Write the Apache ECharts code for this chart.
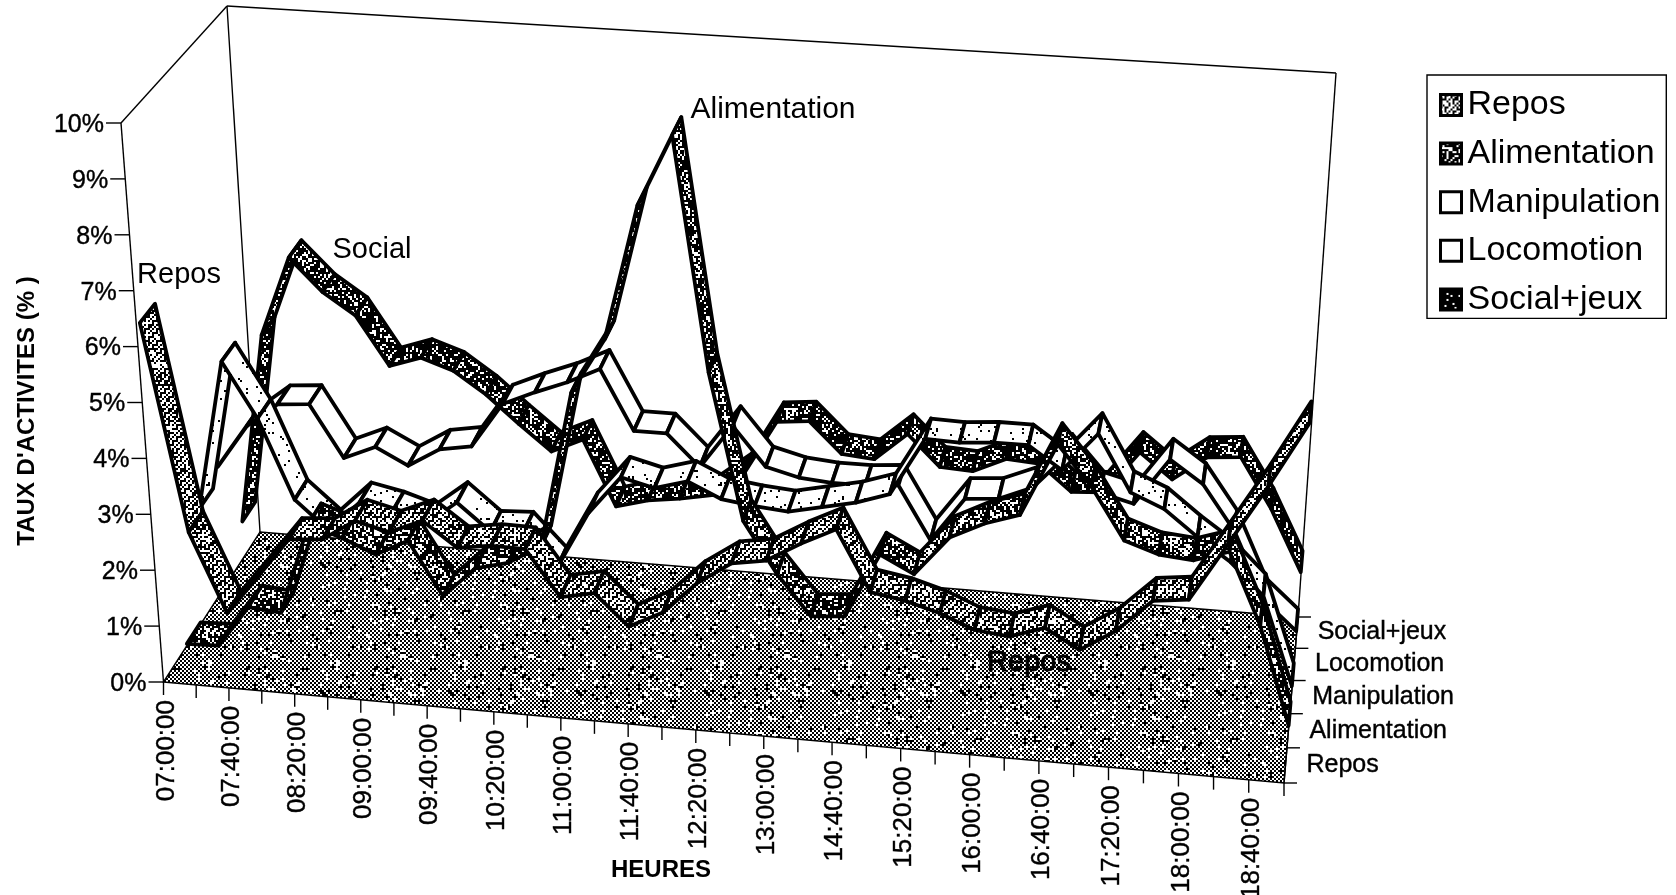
<!DOCTYPE html>
<html>
<head>
<meta charset="utf-8">
<style>
  html, body { margin: 0; padding: 0; background: #fff; }
  #chart { width: 1676px; height: 895px; }
</style>
<script src="https://cdn.jsdelivr.net/npm/echarts@6/dist/echarts.min.js"></script>
</head>
<body>
<div id="chart"></div>
<script>
const heures = ['07:00:00','07:20:00','07:40:00','08:00:00','08:20:00','08:40:00','09:00:00','09:20:00','09:40:00',
  '10:00:00','10:20:00','10:40:00','11:00:00','11:20:00','11:40:00','12:00:00','12:20:00','12:40:00','13:00:00',
  '14:20:00','14:40:00','15:00:00','15:20:00','15:40:00','16:00:00','16:20:00','16:40:00','17:00:00','17:20:00',
  '17:40:00','18:00:00','18:20:00','18:40:00','19:00:00']
const activites = ['Repos', 'Alimentation', 'Manipulation', 'Locomotion', 'Social+jeux']
const yTicks = [0, 1, 2, 3, 4, 5, 6, 7, 8, 9, 10]

const repos = [6.35,2.65,1.25,1.95,2.67,2.72,3.1,2.95,3.2,2.77,2.86,2.85,2.05,2.17,1.63,1.93,2.5,2.9,3.0,3.35,3.65,2.6,2.5,2.33,2.09,2.03,2.23,1.9,2.28,2.86,2.93,3.95,5.0,6.15]
const alimentation = [0.03,0.05,0.8,0.75,2.4,2.2,1.95,2.25,1.3,1.85,2.0,2.35,5.15,6.15,8.6,9.9,5.7,3.1,2.2,1.5,1.55,2.7,2.4,3.1,3.4,3.6,4.9,4.2,3.3,3.1,3.05,3.25,2.0,0.3]
const manipulation = [1.95,4.7,3.7,2.26,1.75,2.3,2.18,2.0,2.45,1.97,2.0,1.4,2.45,3.15,3.0,3.17,2.9,2.82,2.77,2.9,3.03,3.23,4.27,4.25,4.3,4.3,3.9,4.6,3.6,3.35,2.9,2.5,1.95,0.4]
const locomotion = [2.2,3.0,3.45,3.5,2.55,2.8,2.5,2.85,2.95,3.78,4.04,4.27,4.56,3.47,3.47,2.9,3.7,3.0,2.85,2.8,2.8,2.85,1.9,2.7,2.75,3.0,3.65,3.0,2.85,3.7,3.3,2.5,1.3,0.8]
const social = [0.65,4.2,5.7,5.1,4.7,3.8,4.0,3.8,3.4,2.9,2.43,2.7,1.5,1.66,1.74,1.85,2.3,3.3,3.36,2.8,2.75,3.26,2.7,2.67,2.94,2.9,2.43,2.47,3.25,2.8,3.25,3.3,2.4,1.3]

const FONT = '"Liberation Sans", Arial, sans-serif'

// corners of the 3D box on the page
const box = {
  f0: [163.5, 682], f1: [1284, 783], b0: [260, 532], b1: [1298, 617],
  tf0: [121, 123], tf1: [1325, 205], tb0: [227, 6], tb1: [1336, 73]
}
const lerp = (a, b, t) => [a[0] + (b[0] - a[0]) * t, a[1] + (b[1] - a[1]) * t]
const persp = (f, a) => f / (f + a * (1 - f))

// x, depth and height are fractions of the box
function project(fx, depth, fz) {
  const t = persp(fx, 1.04)
  const d = persp(depth, 0.93)
  const low = lerp(lerp(box.f0, box.f1, t), lerp(box.b0, box.b1, t), d)
  const high = lerp(lerp(box.tf0, box.tf1, t), lerp(box.tb0, box.tb1, t), d)
  return lerp(low, high, fz)
}

function toBox(api, params, i, v, depth) {
  const p = api.coord([i, v])
  const cs = params.coordSys
  return project((p[0] - cs.x) / cs.width, depth, 1 - (p[1] - cs.y) / cs.height)
}

// hatch tiles, cell is the size of one dot in pixels
function tile(cells, cell, paint) {
  const c = document.createElement('canvas')
  c.width = c.height = cells * cell
  const g = c.getContext('2d')
  g.fillStyle = '#fff'
  g.fillRect(0, 0, c.width, c.height)
  g.fillStyle = '#000'
  for (let y = 0; y < cells; y++) {
    for (let x = 0; x < cells; x++) {
      if (paint(x, y)) g.fillRect(x * cell, y * cell, cell, cell)
    }
  }
  return { image: c, repeat: 'repeat' }
}
// texture grain only, 0..99 for a dot of the tile
const grain = (x, y) => {
  let h = Math.imul(x * 73 + 11, 374761393) ^ Math.imul(y * 151 + 7, 668265263)
  h = Math.imul(h ^ (h >>> 13), 1274126177)
  return ((h ^ (h >>> 16)) >>> 0) % 100
}

const floorFill = tile(64, 2, (x, y) => ((x + y) % 2 === 0) ? grain(x, y) > 4 : grain(x, y) < 4)
const reposFill = tile(64, 2, (x, y) => ((x % 2 === 0 && y % 2 === 0) || (x + y) % 3 === 0) ? grain(x, y) > 8 : grain(x, y) < 8)
const alimFill = tile(64, 2, (x, y) => grain(x, y) < 62)
const manipFill = tile(64, 2, (x, y) => grain(x, y) < 4)
const locoFill = '#fff'
const socialFill = tile(64, 2, (x, y) => grain(x, y) < 72)

const ribbons = [
  { name: 'Social+jeux', values: social, slot: 4, fill: socialFill, mark: tile(64, 2, (x, y) => grain(x, y) < 90) },
  { name: 'Locomotion', values: locomotion, slot: 3, fill: locoFill, mark: '#fff' },
  { name: 'Manipulation', values: manipulation, slot: 2, fill: manipFill, mark: '#fff' },
  { name: 'Alimentation', values: alimentation, slot: 1, fill: alimFill, mark: alimFill },
  { name: 'Repos', values: repos, slot: 0, fill: reposFill, mark: reposFill }
]

function line(a, b, width) {
  return {
    type: 'line',
    shape: { x1: a[0], y1: a[1], x2: b[0], y2: b[1] },
    style: { stroke: '#000', lineWidth: width || 1.4 }
  }
}

function label(text, x, y, opts) {
  return Object.assign({
    type: 'text', x: x, y: y,
    style: Object.assign({
      text: text, fill: '#000', font: '25px ' + FONT, stroke: '#000', lineWidth: 0.4
    }, opts && opts.style)
  }, opts && opts.el)
}

function renderFrame(params, api) {
  const kids = []
  const c = (i, v) => toBox(api, params, i, v, 0)
  const last = heures.length - 1
  // floor, then the wall outlines
  kids.push({
    type: 'polygon',
    shape: { points: [box.f0, box.f1, box.b1, box.b0] },
    style: { fill: floorFill, stroke: '#000', lineWidth: 1.4 }
  })
  kids.push(line(box.f0, box.tf0))
  kids.push(line(box.tf0, box.tb0))
  kids.push(line(box.tb0, box.b0))
  kids.push(line(box.tb0, box.tb1))
  kids.push(line(box.tb1, box.b1))
  kids.push(line(box.b1, box.f1))
  // value axis
  yTicks.forEach(v => {
    const p = c(0, v)
    kids.push(line([p[0] - 15, p[1]], p))
    kids.push(label(v + '%', p[0] - 17, p[1] + 2, { style: { align: 'right', verticalAlign: 'middle' } }))
  })
  // time axis
  heures.forEach((h, i) => {
    const p = c(i, 0)
    kids.push(line(p, [p[0], p[1] + 13]))
    if (i % 2 === 0) {
      kids.push(label(h, p[0] + 3, p[1] + 18, {
        el: { rotation: Math.PI / 2 },
        style: { align: 'right', verticalAlign: 'middle', font: '26px ' + FONT }
      }))
    }
  })
  // depth axis
  for (let k = 0; k <= activites.length; k++) {
    const p = toBox(api, params, last, 0, k / activites.length)
    kids.push(line(p, [p[0] + 13, p[1]]))
  }
  activites.forEach((name, k) => {
    const p = toBox(api, params, last, 0, (k + 0.5) / activites.length)
    kids.push(label(name, p[0] + 21, p[1], { style: { align: 'left', verticalAlign: 'middle' } }))
  })
  return { type: 'group', children: kids }
}

function renderRibbon(slot, fill) {
  const front = (slot + 0.15) / activites.length
  const back = (slot + 0.85) / activites.length
  return function (params, api) {
    const i = api.value(0)
    const v = api.value(1)
    const next = api.value(2)
    return {
      type: 'polygon',
      shape: {
        points: [
          toBox(api, params, i, v, front),
          toBox(api, params, i + 1, next, front),
          toBox(api, params, i + 1, next, back),
          toBox(api, params, i, v, back)
        ]
      },
      style: { fill: fill, stroke: '#000', lineWidth: 3.8, lineJoin: 'round' }
    }
  }
}

const series = [{
  type: 'custom',
  name: 'cadre',
  silent: true,
  clip: false,
  data: [[0, 0]],
  encode: { x: 0, y: 1 },
  renderItem: renderFrame
}]
ribbons.forEach(r => {
  series.push({
    type: 'custom',
    name: r.name,
    silent: true,
    clip: false,
    itemStyle: { color: r.fill },
    data: r.values.slice(0, -1).map((v, i) => [i, v, r.values[i + 1]]),
    encode: { x: 0, y: 1 },
    renderItem: renderRibbon(r.slot, r.fill)
  })
})

function note(text, x, y, size, weight, rotation, stroke) {
  return {
    type: 'text', x: x, y: y, rotation: rotation || 0, z: 100,
    style: {
      text: text, fill: '#000', align: 'center', verticalAlign: 'middle',
      font: (weight || 'normal') + ' ' + size + 'px ' + FONT,
      stroke: '#000', lineWidth: stroke || 0
    }
  }
}

const chart = echarts.init(document.getElementById('chart'))
chart.setOption({
  animation: false,
  backgroundColor: '#fff',
  grid: { left: 0, top: 0, right: 0, bottom: 0 },
  xAxis: { type: 'category', data: heures, boundaryGap: false, show: false },
  yAxis: { type: 'value', min: 0, max: 10, interval: 1, show: false },
  legend: {
    orient: 'vertical',
    left: 1427,
    top: 75,
    padding: [13, 6, 2, 12],
    itemGap: 14.6,
    itemWidth: 21,
    itemHeight: 21,
    borderColor: '#000',
    borderWidth: 1.4,
    selectedMode: false,
    textStyle: { color: '#000', fontSize: 34, fontFamily: FONT, padding: [0, 0, 0, 1] },
    data: activites.map(name => ({
      name: name,
      icon: 'rect',
      itemStyle: { color: ribbons.find(r => r.name === name).mark, borderColor: '#000', borderWidth: 3 }
    }))
  },
  graphic: [
    note('Repos', 179, 275, 29),
    note('Social', 372, 250, 29),
    note('Alimentation', 773, 110, 30),
    note('Repos', 1029, 663, 29, 'normal', 0, 1),
    note('HEURES', 661, 870, 24, 'bold'),
    note("TAUX D'ACTIVITES (% )", 27, 411, 24, 'bold', Math.PI / 2)
  ],
  series: series
})
</script>
</body>
</html>
